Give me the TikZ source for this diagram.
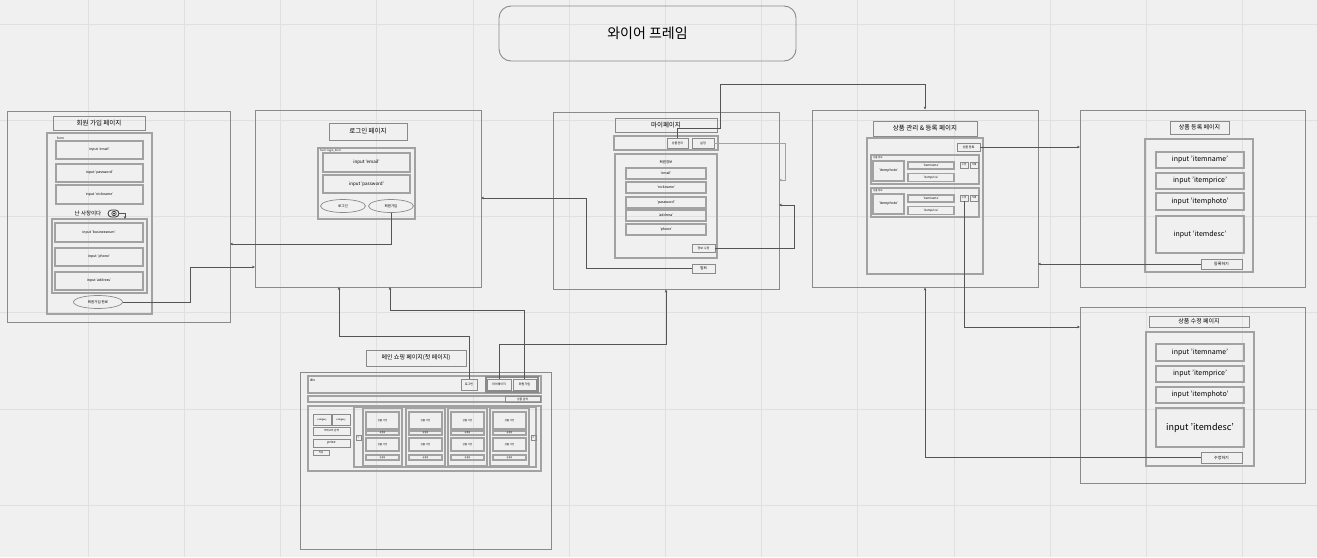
\documentclass[tikz,border=0pt]{standalone}
\usepackage{fontspec}
\setmainfont{Noto Sans CJK KR}
\usepackage{tikz}
\usetikzlibrary{arrows.meta,shapes.geometric,calc}
\definecolor{bgcol}{HTML}{F0F0F0}
\definecolor{gridcol}{HTML}{E0E0E0}
\definecolor{framecol}{HTML}{8A8A8A}
\definecolor{boxcol}{HTML}{A2A2A2}
\definecolor{linkcol}{HTML}{555555}
\newcommand\fsz[1]{\fontsize{#1}{#1}\selectfont}

\tikzset{
  page/.style={draw=framecol, line width=0.9pt, inner sep=0pt},
  pbox/.style={draw=boxcol, line width=1.3pt, inner sep=0pt},
  ttl/.style={draw=framecol, line width=1pt, inner sep=0pt, font=\fsz{6.5}},
  fld/.style={draw=boxcol, line width=1.1pt, inner sep=0pt, font=\fsz{3.5}},
  btn/.style={draw=framecol, line width=0.9pt, inner sep=0pt, font=\fsz{3}},
  oval/.style={ellipse, draw=framecol, line width=0.7pt, inner sep=0pt, font=\fsz{3.5}},
  tag/.style={inner sep=0pt, font=\fsz{3}, anchor=west},
  link/.style={draw=linkcol, line width=0.7pt, -{Stealth[length=3pt,width=2.6pt]}},
}

\begin{document}
\begin{tikzpicture}[x=1pt,y=-1pt]
  \useasboundingbox (0,0) rectangle (1317,557);
  \fill[bgcol] (0,0) rectangle (1317,557);
  \foreach \gx in {88,184.2,...,1300} \draw[gridcol, line width=0.6pt] (\gx,0) -- (\gx,557);
  \foreach \gy in {24,120.2,...,550} \draw[gridcol, line width=0.6pt] (0,\gy) -- (1317,\gy);

  % title
  \node[draw=framecol, line width=0.9pt, rounded corners=12pt, minimum width=297, minimum height=55, font=\fsz{14}] (title) at (647.5,33.5) {와이어 프레임};

  % sign up page
  \node[page, minimum width=223, minimum height=211] (supage) at (118.5,216.5) {};
  \node[ttl, minimum width=92, minimum height=14] (sutitle) at (99,123) {회원 가입 페이지};
  \node[pbox, minimum width=105, minimum height=181] (suform) at (99.5,223.5) {};
  \node[tag] (suformtag) at (57,138) {form};
  \node[fld, minimum width=87, minimum height=18] (suemail) at (99.5,150) {input 'email'};
  \node[fld, minimum width=87, minimum height=18] (supw) at (99.5,173) {input 'password'};
  \node[fld, minimum width=87, minimum height=19] (sunick) at (99.5,194.5) {input 'nickname'};
  \node[inner sep=0pt, font=\fsz{5.5}] (suboss) at (88,213) {난 사장이다};
  \node[draw=black!80, line width=0.8pt, rounded corners=3.5pt, minimum width=11, minimum height=7, inner sep=0pt] (sutoggle) at (113.5,213.5) {};
  \node[circle, draw=black!80, line width=0.6pt, minimum size=4.5, inner sep=0pt] (sudot) at (114,213.5) {};
  \fill[black!80] (sudot.center) circle (1.2);
  \node[pbox, minimum width=95, minimum height=74] (suextra) at (99.5,256) {};
  \node[fld, minimum width=88, minimum height=19] (subiz) at (99,232.5) {input 'businessnum'};
  \node[fld, minimum width=88, minimum height=18] (suphone) at (99,257) {input 'phone'};
  \node[fld, minimum width=88, minimum height=18] (suaddr) at (99,281) {input 'address'};
  \node[oval, minimum width=49, minimum height=13] (suok) at (98,302) {회원가입 완료};
  \coordinate (sutg) at (125,219);
  \draw[link] (sutoggle.east) -| (sutg);

  % login page
  \node[page, minimum width=226, minimum height=177] (lgpage) at (368,198.5) {};
  \node[ttl, minimum width=78, minimum height=17] (lgtitle) at (368,131.5) {로그인 페이지};
  \node[pbox, minimum width=97, minimum height=71] (lgform) at (366.5,183.5) {};
  \node[tag, font=\fsz{2.6}] (lgformtag) at (320,150.5) {form 'login\_form'};
  \node[fld, minimum width=87, minimum height=19, font=\fsz{4.5}] (lgemail) at (366.5,162.5) {input 'email'};
  \node[fld, minimum width=87, minimum height=18, font=\fsz{4.5}] (lgpw) at (366.5,184) {input 'password'};
  \node[oval, minimum width=45, minimum height=13] (lglogin) at (343,206) {로그인};
  \node[oval, minimum width=45, minimum height=13] (lgjoin) at (391,206) {회원가입};
  \coordinate (lgin1) at (255,267);
  \coordinate (suin1) at (230,244);
  \draw[link] (suok.east) -- ++(67,0) |- (lgin1);
  \draw[link] (lgjoin.south) |- (suin1);

  % my page
  \node[page, minimum width=226, minimum height=177] (mypage) at (666,200.5) {};
  \node[ttl, minimum width=102, minimum height=14] (mytitle) at (666,125) {마이페이지};
  \node[pbox, minimum width=104, minimum height=14] (mybar) at (666,143) {};
  \node[btn, minimum width=21, minimum height=10] (mybtn1) at (677.5,143) {상품관리};
  \node[btn, minimum width=22, minimum height=10] (mybtn2) at (703,143) {설정};
  \node[pbox, minimum width=102, minimum height=104] (myinfo) at (666,206) {};
  \node[inner sep=0pt, font=\fsz{3.5}] (myinfotag) at (666,162) {회원정보};
  \node[fld, minimum width=80, minimum height=11] (myemail) at (666,173.5) {'email'};
  \node[fld, minimum width=80, minimum height=11] (mynick) at (666,187.5) {'nickname'};
  \node[fld, minimum width=80, minimum height=11] (mypw) at (666,202.5) {'password'};
  \node[fld, minimum width=80, minimum height=11] (myaddr) at (666,215.5) {'address'};
  \node[fld, minimum width=80, minimum height=11] (myphone) at (666,229.5) {'phone'};
  \node[btn, minimum width=23, minimum height=8] (myedit) at (703.5,248) {정보 수정};
  \node[btn, minimum width=23, minimum height=9, font=\fsz{3.5}] (myquit) at (703.5,268.5) {탈퇴};
  \coordinate (myin1) at (779,180);
  \coordinate (myin2) at (779,205);
  \coordinate (lgin2) at (481,198);
  \draw[link, draw=boxcol] (mybtn2.east) -- (785,143) |- (myin1);
  \draw[link] (myedit.east) -- (794,248) |- (myin2);
  \draw[link] (myquit.west) -- (586,268.5) |- (lgin2);

  % product management page
  \node[page, minimum width=226, minimum height=177] (pmpage) at (925,198.5) {};
  \node[ttl, minimum width=104, minimum height=15] (pmtitle) at (925,128.5) {상품 관리 \& 등록 페이지};
  \node[pbox, minimum width=116, minimum height=136] (pmlist) at (925,206) {};
  \node[btn, minimum width=23, minimum height=8] (pmadd) at (968.5,147) {상품 등록};
  \node[pbox, minimum width=108, minimum height=29] (pmcard1) at (925,169.5) {};
  \node[tag, font=\fsz{2.4}] (pmtag1) at (873,157.5) {상품 정보};
  \node[fld, minimum width=31, minimum height=20] (pmphoto1) at (888.5,171) {'itemphoto'};
  \node[fld, minimum width=46, minimum height=7, font=\fsz{3}] (pmname1) at (931,165.5) {'itemname'};
  \node[fld, minimum width=46, minimum height=8, font=\fsz{3}] (pmprice1) at (931,177.5) {'itemprice'};
  \node[btn, minimum width=8, minimum height=6, font=\fsz{2.4}] (pmedit1) at (964,165) {수정};
  \node[btn, minimum width=8, minimum height=6, font=\fsz{2.4}] (pmdel1) at (974,165) {삭제};
  \node[pbox, minimum width=108, minimum height=29] (pmcard2) at (925,202.5) {};
  \node[tag, font=\fsz{2.4}] (pmtag2) at (873,190.5) {상품 정보};
  \node[fld, minimum width=31, minimum height=20] (pmphoto2) at (888.5,204) {'itemphoto'};
  \node[fld, minimum width=46, minimum height=7, font=\fsz{3}] (pmname2) at (931,198.5) {'itemname'};
  \node[fld, minimum width=46, minimum height=8, font=\fsz{3}] (pmprice2) at (931,210.5) {'itemprice'};
  \node[btn, minimum width=8, minimum height=6, font=\fsz{2.4}] (pmedit2) at (964,198) {수정};
  \node[btn, minimum width=8, minimum height=6, font=\fsz{2.4}] (pmdel2) at (974,198) {삭제};
  \draw[link] (mybtn1.north) -- ++(0,-9) -| (720,84) -| (pmpage.north);

  % product register page
  \node[page, minimum width=225, minimum height=177] (rgpage) at (1192.5,198.5) {};
  \node[ttl, minimum width=59, minimum height=13, font=\fsz{6}] (rgtitle) at (1199.5,127.5) {상품 등록 페이지};
  \node[pbox, minimum width=108, minimum height=133] (rgform) at (1199,205.5) {};
  \node[fld, minimum width=88, minimum height=16, font=\fsz{7}] (rgname) at (1200,160) {input 'itemname'};
  \node[fld, minimum width=88, minimum height=16, font=\fsz{7}] (rgprice) at (1200,181) {input 'itemprice'};
  \node[fld, minimum width=88, minimum height=17, font=\fsz{7}] (rgphoto) at (1200,201.5) {input 'itemphoto'};
  \node[fld, minimum width=88, minimum height=37, font=\fsz{7}] (rgdesc) at (1200,234.5) {input 'itemdesc'};
  \node[btn, minimum width=41, minimum height=10, font=\fsz{4}] (rgbtn) at (1221.5,264) {등록하기};
  \coordinate (rgin) at (1080,147);
  \coordinate (pmin1) at (1038,264);
  \draw[link] (pmadd.east) -- (rgin);
  \draw[link] (rgbtn.west) -- (pmin1);

  % product edit page
  \node[page, minimum width=225, minimum height=176] (edpage) at (1192.5,395) {};
  \node[ttl, minimum width=100, minimum height=11, font=\fsz{6}] (edtitle) at (1199,321.5) {상품 수정 페이지};
  \node[pbox, minimum width=108, minimum height=134] (edform) at (1200,399) {};
  \node[fld, minimum width=88, minimum height=17, font=\fsz{7}] (edname) at (1200,352.5) {input 'itemname'};
  \node[fld, minimum width=88, minimum height=16, font=\fsz{7}] (edprice) at (1200,374) {input 'itemprice'};
  \node[fld, minimum width=88, minimum height=16, font=\fsz{7}] (edphoto) at (1200,395) {input 'itemphoto'};
  \node[fld, minimum width=88, minimum height=39, font=\fsz{9}] (eddesc) at (1200,427.5) {input 'itemdesc'};
  \node[btn, minimum width=41, minimum height=11, font=\fsz{4}] (edbtn) at (1221.5,457.5) {수정하기};
  \coordinate (edin) at (1080,327);
  \draw[link] (pmedit2.south) |- (edin);
  \draw[link] (edbtn.west) -| (pmpage.south);

  % main shopping page
  \node[ttl, minimum width=100, minimum height=16, font=\fsz{6}] (mntitle) at (416,358) {메인 쇼핑 페이지(첫 페이지)};
  \node[page, minimum width=251, minimum height=177] (mnpage) at (425.5,460.5) {};
  \node[pbox, minimum width=233, minimum height=17] (mnhead) at (424.5,384.5) {};
  \node[tag, font=\fsz{3.5}] (mnheadtag) at (310,380) {div};
  \node[btn, minimum width=16, minimum height=11] (mnlogin) at (469,384.5) {로그인};
  \node[draw=framecol, line width=1.6pt, minimum width=52, minimum height=15, inner sep=0pt] (mngroup) at (512,384.5) {};
  \node[btn, minimum width=24, minimum height=11] (mnmy) at (499,384.5) {마이페이지};
  \node[btn, minimum width=23, minimum height=11] (mnjoin) at (524.5,384.5) {회원가입};
  \node[pbox, minimum width=233, minimum height=6] (mnsearch) at (424.5,399) {};
  \node[btn, minimum width=35, minimum height=6, font=\fsz{2.8}] (mnsbtn) at (522.5,399) {상품 검색};
  \node[pbox, minimum width=233, minimum height=65] (mnbody) at (424.5,438.5) {};
  \node[btn, minimum width=18, minimum height=11, font=\fsz{2.3}] (mncat1) at (322,419.5) {category};
  \node[btn, minimum width=18, minimum height=11, font=\fsz{2.3}] (mncat2) at (341,419.5) {category};
  \node[btn, minimum width=37, minimum height=8, font=\fsz{2.6}] (mncat3) at (331.5,431) {카테고리 검색};
  \node[btn, minimum width=37, minimum height=8, font=\fsz{3.5}] (mnprice) at (331.5,443) {price};
  \node[btn, minimum width=16, minimum height=5, font=\fsz{2.3}] (mnapply) at (321,452.5) {적용};
  \node[pbox, minimum width=182, minimum height=60] (mnlist) at (445,437) {};
  \node[btn, minimum width=5, minimum height=5, font=\fsz{3}] (mnprev) at (358.5,437.5) {<};
  \node[btn, minimum width=5, minimum height=5, font=\fsz{3}] (mnnext) at (533.5,437.5) {>};
  \node[pbox, minimum width=39, minimum height=58] (mncard1) at (382.5,437) {};
  \node[fld, minimum width=33, minimum height=17, font=\fsz{2.5}] (mnimg1a) at (382.5,420.5) {상품 사진};
  \node[fld, minimum width=33, minimum height=4, font=\fsz{2}] (mnname1a) at (382.5,433) {상품명};
  \node[fld, minimum width=33, minimum height=13, font=\fsz{2.5}] (mnimg1b) at (382.5,444.5) {상품 사진};
  \node[fld, minimum width=33, minimum height=5, font=\fsz{2}] (mnname1b) at (382.5,457.5) {상품명};
  \node[pbox, minimum width=39, minimum height=58] (mncard2) at (425.5,437) {};
  \node[fld, minimum width=33, minimum height=17, font=\fsz{2.5}] (mnimg2a) at (425.5,420.5) {상품 사진};
  \node[fld, minimum width=33, minimum height=4, font=\fsz{2}] (mnname2a) at (425.5,433) {상품명};
  \node[fld, minimum width=33, minimum height=13, font=\fsz{2.5}] (mnimg2b) at (425.5,444.5) {상품 사진};
  \node[fld, minimum width=33, minimum height=5, font=\fsz{2}] (mnname2b) at (425.5,457.5) {상품명};
  \node[pbox, minimum width=39, minimum height=58] (mncard3) at (467.5,437) {};
  \node[fld, minimum width=33, minimum height=17, font=\fsz{2.5}] (mnimg3a) at (467.5,420.5) {상품 사진};
  \node[fld, minimum width=33, minimum height=4, font=\fsz{2}] (mnname3a) at (467.5,433) {상품명};
  \node[fld, minimum width=33, minimum height=13, font=\fsz{2.5}] (mnimg3b) at (467.5,444.5) {상품 사진};
  \node[fld, minimum width=33, minimum height=5, font=\fsz{2}] (mnname3b) at (467.5,457.5) {상품명};
  \node[pbox, minimum width=39, minimum height=58] (mncard4) at (509.5,437) {};
  \node[fld, minimum width=33, minimum height=17, font=\fsz{2.5}] (mnimg4a) at (509.5,420.5) {상품 사진};
  \node[fld, minimum width=33, minimum height=4, font=\fsz{2}] (mnname4a) at (509.5,433) {상품명};
  \node[fld, minimum width=33, minimum height=13, font=\fsz{2.5}] (mnimg4b) at (509.5,444.5) {상품 사진};
  \node[fld, minimum width=33, minimum height=5, font=\fsz{2}] (mnname4b) at (509.5,457.5) {상품명};
  \coordinate (lgin3) at (339,287);
  \coordinate (lgin4) at (390,287);
  \draw[link] (mnlogin.north) -- ++(0,-42) -| (lgin3);
  \draw[link] (mnjoin.north) -- ++(0,-68) -| (lgin4);
  \draw[link] (mnmy.north) -- ++(0,-34) -| (mypage.south);
\end{tikzpicture}
\end{document}
